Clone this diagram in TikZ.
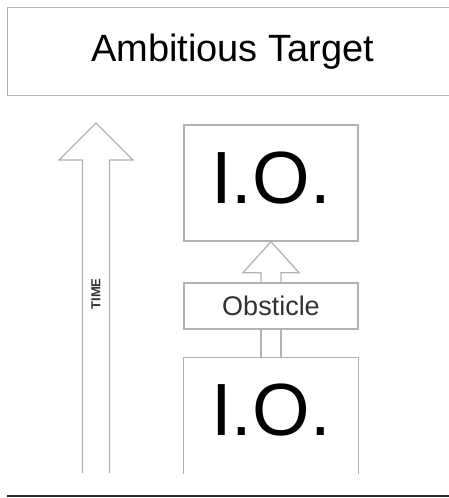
\documentclass[tikz,border=0pt]{standalone}
\usepackage{fontspec}
\setmainfont{Liberation Sans}
\usetikzlibrary{calc}
\definecolor{linegray}{RGB}{178,178,178}
\definecolor{textgray}{RGB}{50,50,50}
\tikzset{
  box/.style={draw=linegray, line width=1.3pt, fill=white, inner sep=0pt},
  arrowline/.style={draw=linegray, line width=1.3pt},
}
\begin{document}
\begin{tikzpicture}[x=1pt,y=-1pt]
% picture is measured in pixels of the original, y running down
\useasboundingbox (0,0) rectangle (449,498);
\begin{scope}
\clip (0,0) rectangle (449,498);
% the target runs off the right edge
\node[box, minimum width=450pt, minimum height=88pt, anchor=north west,
      font=\fontsize{38}{38}\selectfont] (target) at (7,7) {Ambitious Target};
\end{scope}
% the two steps and the obstacle between them
\node[box, minimum width=174pt, minimum height=116pt, text depth=10pt,
      font=\fontsize{74}{74}\selectfont] (io1) at (271,183) {I.O.};
\node[box, minimum width=174pt, minimum height=46pt, text=textgray,
      font=\fontsize{27}{27}\selectfont] (obst) at (271,306) {Obsticle};
\node[inner sep=0pt, minimum width=174pt, minimum height=116pt, text depth=12pt,
      font=\fontsize{74}{74}\selectfont] (io2) at (271,416) {I.O.};
% the lower box is open at the bottom
\draw[arrowline] (io2.south west) |- (io2.north) -| (io2.south east);
% block arrow from the lower step up to the upper one
\draw[arrowline] (io1.south) -- ++(-28,31) -- ++(18,0) coordinate (hl) -- (hl |- obst.north);
\draw[arrowline] (io1.south) -- ++(28,31) -- ++(-18,0) coordinate (hr) -- (hr |- obst.north);
\draw[arrowline] (hl |- obst.south) -- (hl |- io2.north);
\draw[arrowline] (hr |- obst.south) -- (hr |- io2.north);
% time arrow on the left
\coordinate (timetip) at (96,123);
\coordinate (timeend) at (96,473);
\draw[arrowline] ($(timeend)+(-13.5,0)$) -- ($(timetip)+(-13.5,37)$) -- ++(-23.5,0)
  -- (timetip) -- ++(37,37) -- ++(-23.5,0) -- ($(timeend)+(13.5,0)$);
\node[rotate=90, text=textgray, inner sep=0pt,
      font=\fontsize{13}{13}\selectfont\bfseries] (time) at (96,294) {TIME};
% ground line
\coordinate (groundl) at (7,496);
\coordinate (groundr) at (449,496);
\draw[line width=2.5pt, black!85] (groundl) -- (groundr);
\end{tikzpicture}
\end{document}
